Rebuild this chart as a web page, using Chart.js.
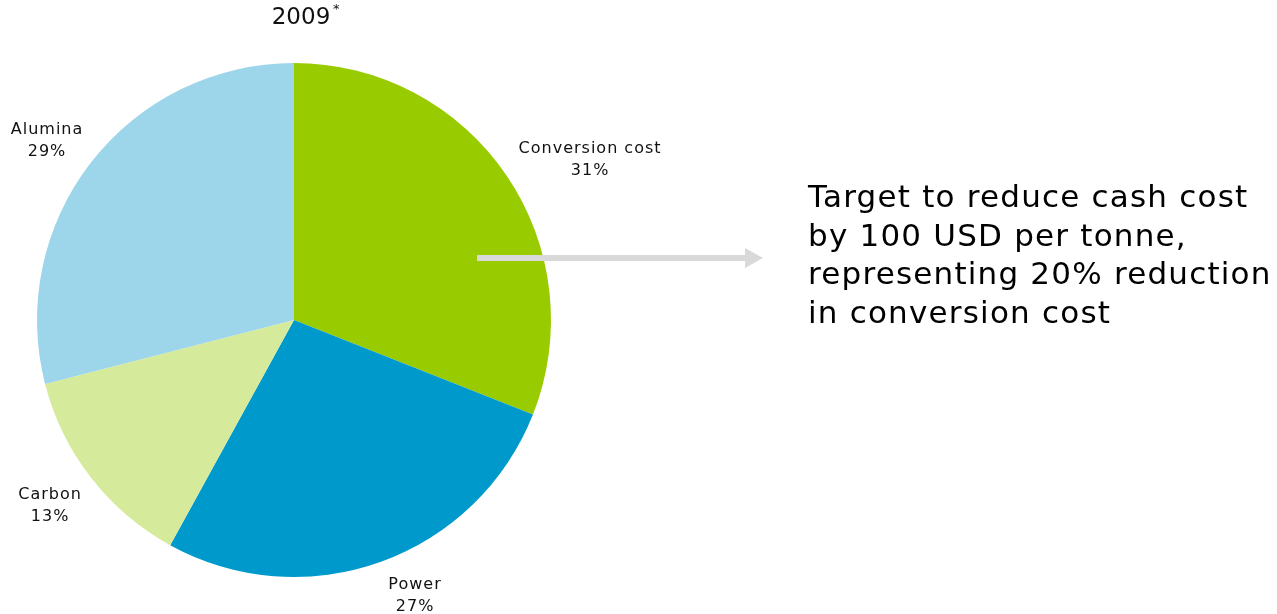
<!DOCTYPE html>
<html>
<head>
<meta charset="utf-8">
<script src="https://cdn.jsdelivr.net/npm/chart.js@4"></script>
<style>
  html, body { margin: 0; padding: 0; background: #fff; }
  #wrap { width: 1277px; height: 614px; position: relative; }
</style>
</head>
<body>
<div id="wrap"><canvas id="costChart" width="1277" height="614"></canvas></div>
<script>
// Cash cost breakdown, 2009
const categories = ['Conversion cost', 'Power', 'Carbon', 'Alumina'];
const shares = [31, 27, 13, 29];
const sliceColors = ['#99cc00', '#0099cc', '#d6ea9c', '#9dd5ea'];
const titleText = '2009';
const noteLines = [
    'Target to reduce cash cost',
    'by 100 USD per tonne,',
    'representing 20% reduction',
    'in conversion cost'
];

// label anchor relative to pie centre, in units of the radius
const labelAnchors = [[1.152, -0.622], [0.471, 1.074], [-0.949, 0.724], [-0.961, -0.696]];

const annotations = {
    id: 'annotations',
    afterDraw(chart) {
        const ctx = chart.ctx;
        const arcs = chart.getDatasetMeta(0).data;
        const cx = arcs[0].x, cy = arcs[0].y, r = arcs[0].outerRadius;

        ctx.save();
        ctx.fillStyle = '#111';
        ctx.textAlign = 'center';
        ctx.textBaseline = 'middle';

        // title with superscript asterisk
        ctx.font = '23px "DejaVu Sans"';
        ctx.fillText(titleText, cx + 7, 18);
        const tw = ctx.measureText(titleText).width;
        ctx.font = '13px "DejaVu Sans"';
        ctx.fillText('*', cx + 7 + tw / 2 + 6, 10);

        // slice labels
        ctx.font = '16px "DejaVu Sans"';
        ctx.letterSpacing = '1px';
        categories.forEach((name, i) => {
            const lx = cx + labelAnchors[i][0] * r;
            const ly = cy + labelAnchors[i][1] * r;
            ctx.fillText(name, lx, ly - 11);
            ctx.fillText(shares[i] + '%', lx, ly + 11);
        });
        ctx.letterSpacing = '0px';

        // arrow out of the conversion cost slice
        const ay = cy - 62;
        ctx.fillStyle = '#d9d9d9';
        ctx.fillRect(cx + 183, ay - 3, 268, 6);
        ctx.beginPath();
        ctx.moveTo(cx + 451, ay - 10);
        ctx.lineTo(cx + 469, ay);
        ctx.lineTo(cx + 451, ay + 10);
        ctx.closePath();
        ctx.fill();

        // note text
        ctx.fillStyle = '#000';
        ctx.textAlign = 'left';
        ctx.textBaseline = 'alphabetic';
        ctx.font = '31px "DejaVu Sans"';
        ctx.letterSpacing = '1.2px';
        noteLines.forEach((line, i) => {
            ctx.fillText(line, 808, 207 + i * 38.6);
        });
        ctx.restore();
    }
};

new Chart(document.getElementById('costChart'), {
    type: 'pie',
    data: {
        labels: categories,
        datasets: [{
            data: shares,
            backgroundColor: sliceColors,
            borderWidth: 0
        }]
    },
    options: {
        responsive: false,
        animation: false,
        layout: { padding: { left: 37, right: 726, top: 63, bottom: 37 } },
        plugins: {
            legend: { display: false },
            tooltip: { enabled: false }
        }
    },
    plugins: [annotations]
});
</script>
</body>
</html>
